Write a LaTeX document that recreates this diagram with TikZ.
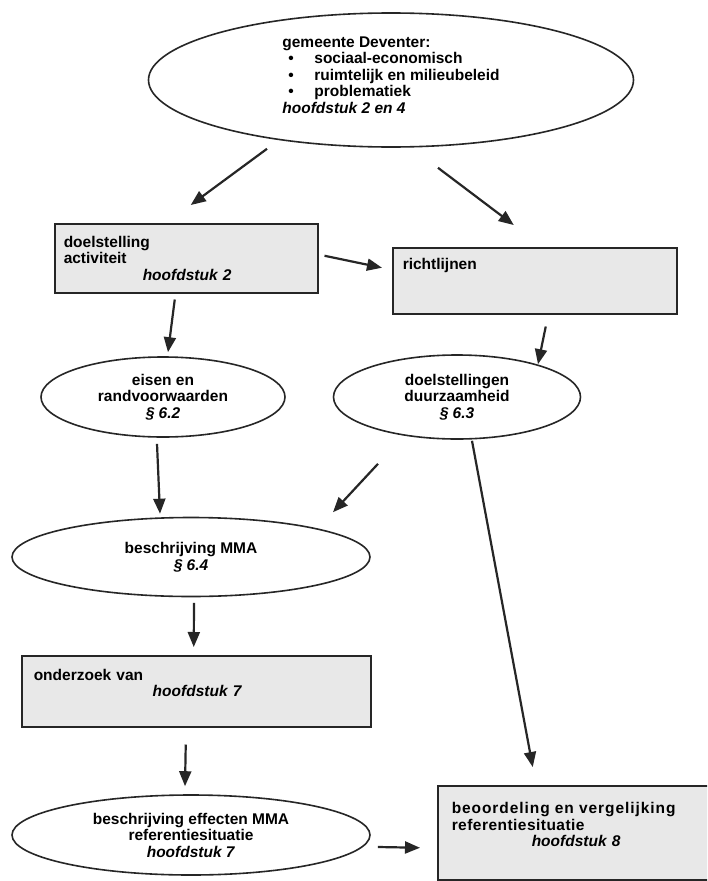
\documentclass[tikz,border=0pt]{standalone}
\usepackage{fontspec}
\setmainfont{Liberation Sans}
\usetikzlibrary{shapes.geometric,arrows.meta,calc}

\begin{document}
\begin{tikzpicture}[x=1pt,y=-1pt,
  every node/.style={font=\bfseries\fontsize{15.5}{16.5}\selectfont},
  oval/.style={ellipse, draw=black!85, line width=1.6pt, fill=white,
    inner sep=0pt, align=center},
  panel/.style={rectangle, draw=black!85, line width=1.5pt, fill=black!9,
    inner sep=0pt, anchor=north west, align=left},
  arr/.style={draw=black!85, line width=2.2pt,
    -{Triangle[length=15pt,width=12pt]}}]

\useasboundingbox (0,0) rectangle (707,881);
\clip (0,0) rectangle (707,881);
\fill[white] (0,0) rectangle (707,881);

% municipality overview
\node[oval, minimum width=485pt, minimum height=134pt,
  label={[name=toplist, align=left, yshift=5pt]center:{gemeente Deventer:\\
    \makebox[32pt][l]{\hspace{6pt}\textbullet}sociaal-economisch\\
    \makebox[32pt][l]{\hspace{6pt}\textbullet}ruimtelijk en milieubeleid\\
    \makebox[32pt][l]{\hspace{6pt}\textbullet}problematiek\\
    \textit{hoofdstuk 2 en 4}}}] (top) at (391,80) {};

% rectangular steps
\node[panel, minimum width=263pt, minimum height=69pt, text width=245pt]
  (doel) at (54,223)
  {doelstelling\\activiteit\\\hspace*{79pt}\textit{hoofdstuk 2}};
\node[panel, minimum width=284pt, minimum height=66pt, text width=264pt]
  (richt) at (392,247) {richtlijnen\\\mbox{}\\\mbox{}};
\node[panel, minimum width=349pt, minimum height=71pt, text width=325pt]
  (onder) at (21,655)
  {onderzoek van\\\hspace*{119pt}\textit{hoofdstuk 7}\\\mbox{}};
\node[panel, minimum width=290pt, minimum height=94pt, text width=262pt]
  (beoord) at (437,785)
  {{\addfontfeature{LetterSpace=6}beoordeling en vergelijking}\\
   {\addfontfeature{LetterSpace=3}referentiesituatie}\\
   \hspace*{80pt}\textit{hoofdstuk 8}\\\mbox{}};

% elliptical steps
\node[oval, minimum width=244pt, minimum height=80pt] (eisen) at (163,397)
  {eisen en\\randvoorwaarden\\\textit{\S\ 6.2}};
\node[oval, minimum width=247pt, minimum height=84pt] (duur) at (457,397)
  {doelstellingen\\duurzaamheid\\\textit{\S\ 6.3}};
\node[oval, minimum width=358pt, minimum height=79pt] (mma) at (191,557)
  {beschrijving MMA\\\textit{\S\ 6.4}};
\node[oval, minimum width=358pt, minimum height=80pt] (effect) at (191,835)
  {beschrijving effecten MMA\\referentiesituatie\\\textit{hoofdstuk 7}};

% connectors
\draw[arr] ($(top.south)+(-124,1)$) -- ($(doel.north)+(4.5,-18)$);
\draw[arr] ($(top.south)+(47,20)$) -- ($(richt.north)+(-21,-22)$);
\draw[arr] ($(doel.east)+(6,-2.5)$) -- ($(richt.west)+(-10,-13)$);
\draw[arr] ($(doel.south)+(-11.5,6)$) -- ($(eisen.north)+(5,-4)$);
\draw[arr] ($(richt.south)+(11,12)$) -- ($(duur.north)+(81,10)$);
\draw[arr] ($(eisen.south)+(-6,6)$) -- ($(mma.north)+(-31,-3)$);
\draw[arr] ($(duur.south)+(-79,24)$) -- ($(mma.north)+(142,-4.5)$);
\draw[arr] ($(duur.south)+(15,1)$) -- ($(beoord.north)+(-50,-18)$);
\draw[arr] ($(mma.south)+(3,5.5)$) -- ($(onder.north)+(-2.5,-8)$);
\draw[arr] ($(onder.south)+(-10.5,17)$) -- ($(effect.north)+(-6,-8)$);
\draw[arr] ($(effect.east)+(7,12)$) -- ($(beoord.west)+(-17,15)$);
\end{tikzpicture}
\end{document}
